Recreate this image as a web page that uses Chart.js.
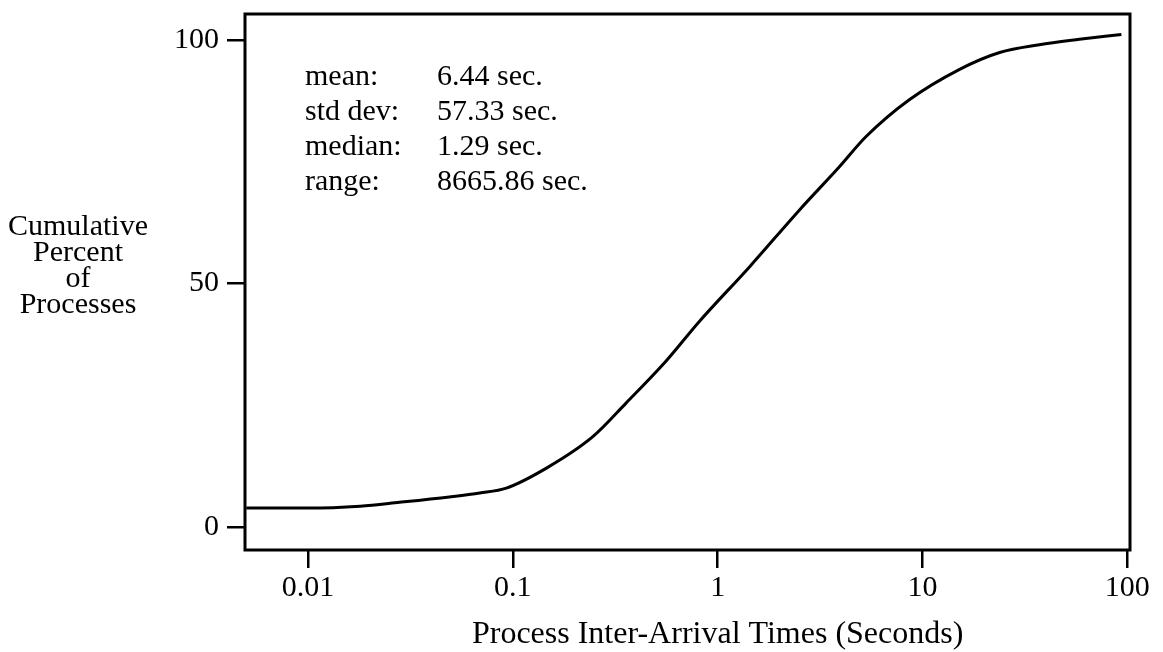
<!DOCTYPE html>
<html>
<head>
<meta charset="utf-8">
<script src="https://cdn.jsdelivr.net/npm/chart.js@4.4.1/dist/chart.umd.min.js"></script>
<style>
  html, body { margin: 0; padding: 0; background: #fff; }
  #wrap { width: 1163px; height: 652px; }
</style>
</head>
<body>
<div id="wrap"><canvas id="chart"></canvas></div>
<script>
// inter-arrival time (seconds) and cumulative percent
const interArrivalSec = [0.005, 0.01, 0.018, 0.028, 0.049, 0.069, 0.093, 0.146, 0.245, 0.358, 0.566, 0.81, 1.43, 2.51, 3.94, 5.29, 8.62, 15.1, 23.8, 37.2, 58.3, 93.5];
const cumulativePct = [3.9, 3.9, 4.3, 5.1, 6.2, 7.0, 8.0, 12.1, 18.5, 25.5, 34.3, 42.1, 53.4, 65.1, 74.0, 80.1, 87.7, 93.9, 97.4, 99.0, 100.1, 101.1];

const xTicks = [0.01, 0.1, 1, 10, 100];
const yTicks = [0, 50, 100];

const statLabels = ['mean:', 'std dev:', 'median:', 'range:'];
const statValues = ['6.44 sec.', '57.33 sec.', '1.29 sec.', '8665.86 sec.'];

const yTitleLines = ['Cumulative', 'Percent', 'of', 'Processes'];
const xTitle = 'Process Inter-Arrival Times (Seconds)';

const FONT = '"Liberation Serif", "Times New Roman", serif';

/* frame + free text (stats, axis titles) */
const decorations = {
  id: 'decorations',
  afterDraw(chart) {
    const { ctx, chartArea: a, scales } = chart;
    ctx.save();
    ctx.strokeStyle = '#000';
    ctx.lineWidth = 3;
    ctx.strokeRect(a.left, a.top, a.right - a.left, a.bottom - a.top);

    ctx.fillStyle = '#000';
    ctx.font = '30px ' + FONT;
    ctx.textBaseline = 'alphabetic';
    ctx.textAlign = 'left';
    statLabels.forEach((lbl, i) => {
      const y = a.top + 71 + i * 35;
      ctx.fillText(lbl, a.left + 60, y);
      ctx.fillText(statValues[i], a.left + 192, y);
    });

    // y title, stacked horizontally to the left of the axis
    ctx.textAlign = 'center';
    ctx.textBaseline = 'middle';
    const y50 = scales.y.getPixelForValue(50);
    yTitleLines.forEach((line, i) => {
      ctx.fillText(line, 78, y50 - 56 + i * 26);
    });

    // x title sits under the "1" tick
    ctx.font = '32px ' + FONT;
    ctx.fillText(xTitle, scales.x.getPixelForValue(1), 635);
    ctx.restore();
  }
};

// drop the label overhang padding so the plot box lands where the original is
const noOverhang = s => { s.paddingTop = 0; s.paddingBottom = 0; s.paddingLeft = 0; s.paddingRight = 0; };

new Chart(document.getElementById('chart'), {
  type: 'line',
  data: {
    datasets: [{
      data: interArrivalSec.map((x, i) => ({ x, y: cumulativePct[i] })),
      borderColor: '#000',
      borderWidth: 3,
      pointRadius: 0,
      cubicInterpolationMode: 'monotone',
      fill: false
    }]
  },
  options: {
    responsive: true,
    maintainAspectRatio: false,
    animation: false,
    layout: { padding: { top: 14, right: 33, left: 0, bottom: 0 } },
    plugins: { legend: { display: false }, tooltip: { enabled: false } },
    scales: {
      x: {
        type: 'logarithmic',
        min: 0.00493,
        max: 103,
        afterBuildTicks: s => { s.ticks = xTicks.map(v => ({ value: v })); },
        afterFit: s => { s.height = 102; noOverhang(s); },
        border: { display: false },
        grid: { drawOnChartArea: false, drawTicks: true, tickLength: 18, color: '#000', lineWidth: 2.5 },
        ticks: {
          color: '#000',
          font: { family: FONT, size: 30 },
          padding: 2,
          autoSkip: false,
          maxRotation: 0,
          callback: v => String(v)
        }
      },
      y: {
        type: 'linear',
        min: -4.7,
        max: 105.3,
        afterBuildTicks: s => { s.ticks = yTicks.map(v => ({ value: v })); },
        afterFit: s => { s.width = 245; noOverhang(s); },
        border: { display: false },
        grid: { drawOnChartArea: false, drawTicks: true, tickLength: 18, color: '#000', lineWidth: 2.5 },
        ticks: {
          color: '#000',
          font: { family: FONT, size: 30 },
          padding: 8,
          callback: v => String(v)
        }
      }
    }
  },
  plugins: [decorations]
});
</script>
</body>
</html>
